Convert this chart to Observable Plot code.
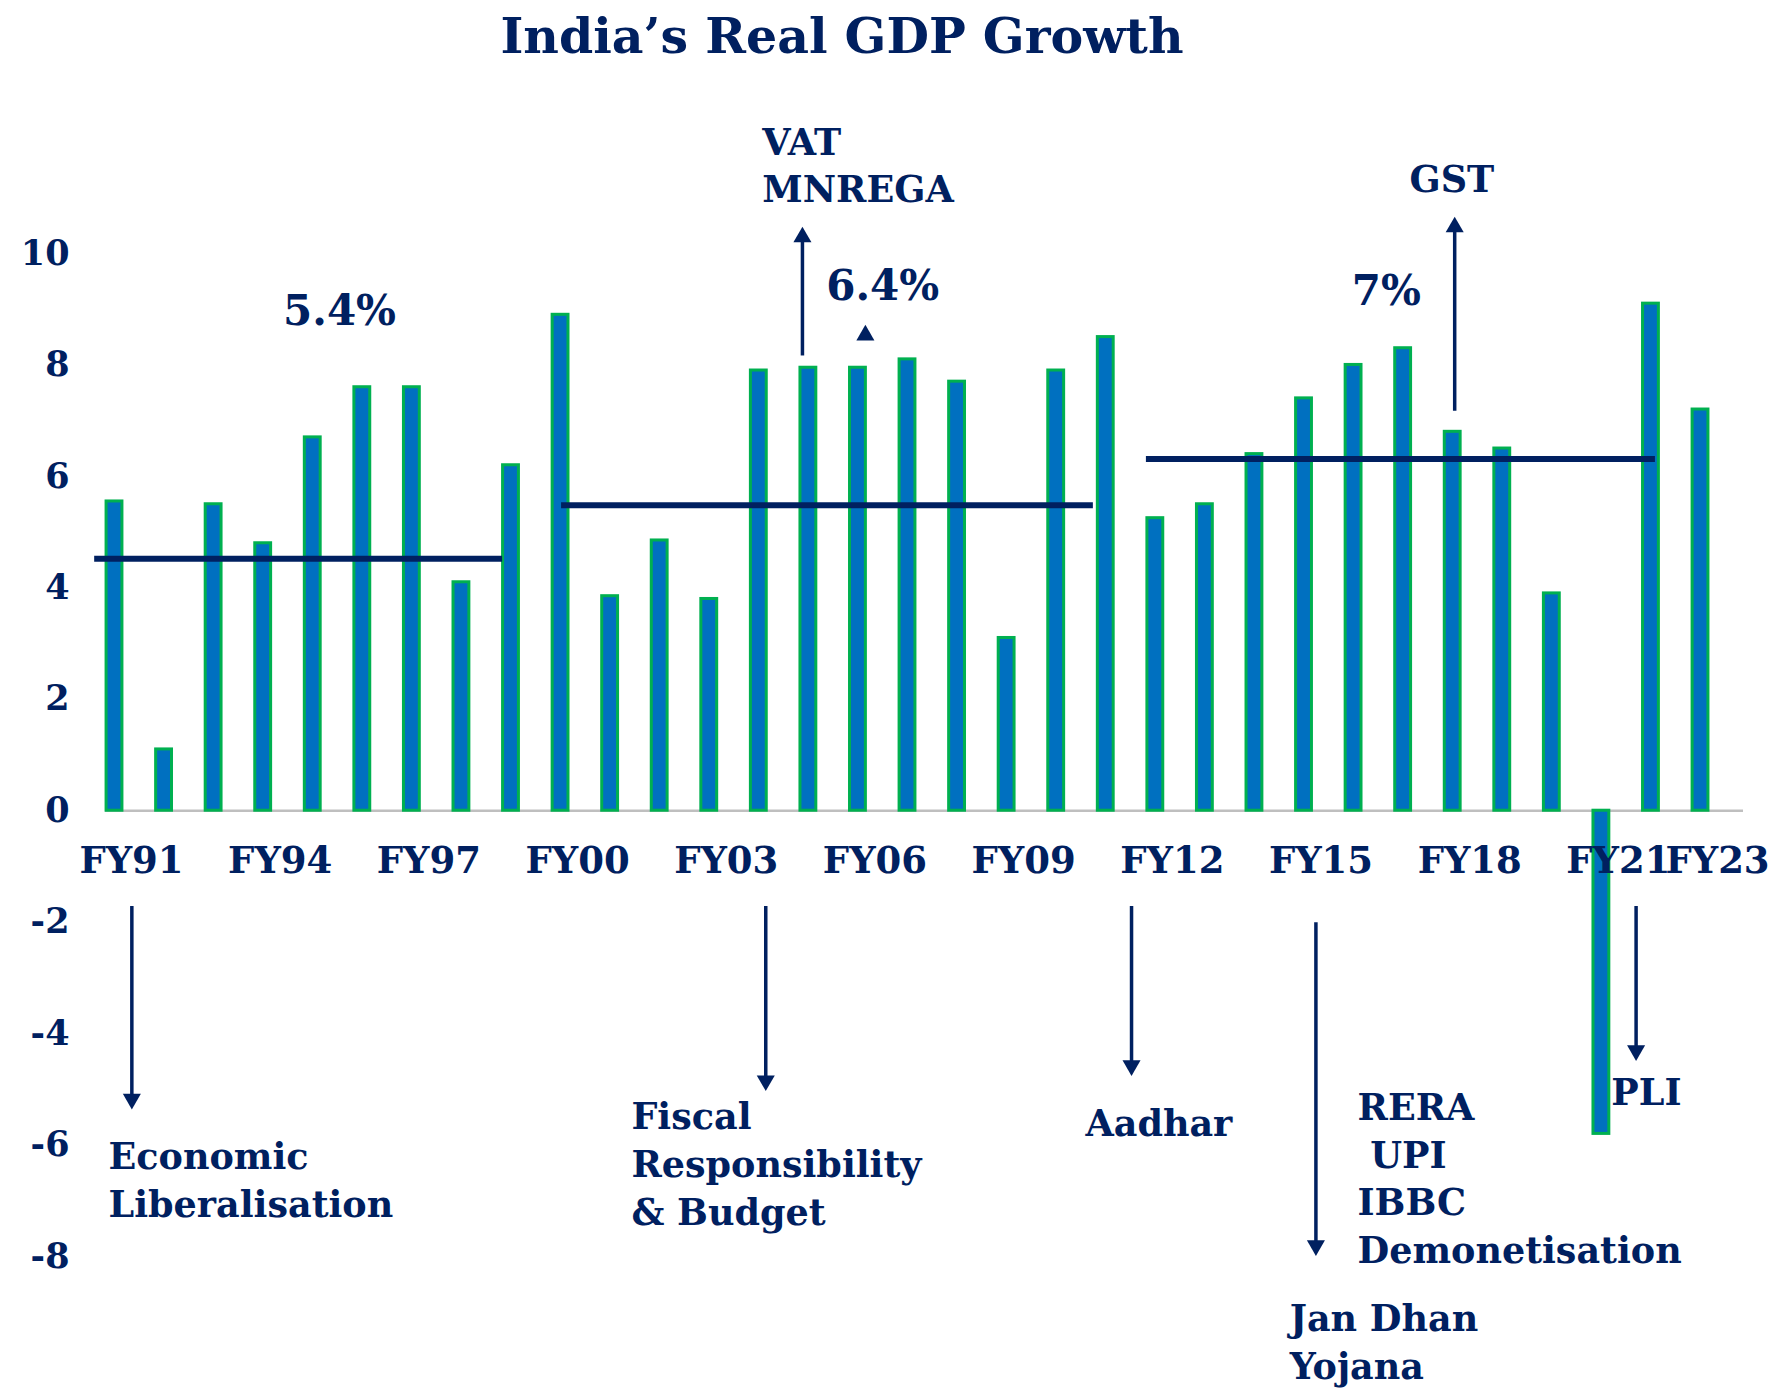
<!DOCTYPE html>
<html><head><meta charset="utf-8">
<script src="https://cdn.jsdelivr.net/npm/d3@7"></script>
<script src="https://cdn.jsdelivr.net/npm/@observablehq/plot@0.6"></script>
<style>
body{margin:0;background:#fff;}
#wrap{position:relative;width:1774px;height:1388px;overflow:hidden;background:#fff;}
#title{position:absolute;left:0;top:12px;width:1684px;text-align:center;font-family:"DejaVu Serif";font-weight:bold;font-size:49px;line-height:49px;color:#002060;}
#chart{position:absolute;left:0;top:80px;}
#chart text{white-space:pre;}
</style></head><body>
<div id="wrap"><div id="title">India’s Real GDP Growth</div><div id="chart"></div></div>
<script>
// Fiscal years (categories)
const categories = ["FY91","FY92","FY93","FY94","FY95","FY96","FY97","FY98","FY99","FY00",
  "FY01","FY02","FY03","FY04","FY05","FY06","FY07","FY08","FY09","FY10","FY11",
  "FY12","FY13","FY14","FY15","FY16","FY17","FY18","FY19","FY20","FY21","FY22","FY23"];
// Real GDP growth, %
const growth = [5.55,1.1,5.5,4.8,6.7,7.6,7.6,4.1,6.2,8.9,
  3.85,4.85,3.8,7.9,7.95,7.95,8.1,7.7,3.1,7.9,8.5,
  5.25,5.5,6.4,7.4,8.0,8.3,6.8,6.5,3.9,-5.8,9.1,7.2];
// Axis tick labels
const xTickLabels = ["FY91","FY94","FY97","FY00","FY03","FY06","FY09","FY12","FY15","FY18","FY21","FY23"];
const yTicks = [-8,-6,-4,-2,0,2,4,6,8,10];
// Period average lines (x in category-index units)
const avgFrom = [-0.40, 9.02, 20.82];
const avgTo = [7.83, 19.75, 31.09];
const avgValue = [4.52, 5.48, 6.31];
// Period labels
const periodLabels = ["5.4%","6.4%","7%"];
const periodLabelX = [4.54, 15.5, 25.66];
const periodLabelY = [8.95, 9.41, 9.32];
// Reform notes
const noteText = ["VAT\nMNREGA","GST","Economic\nLiberalisation","Fiscal\nResponsibility\n& Budget","Aadhar","RERA\n UPI\nIBBC\nDemonetisation","Jan Dhan\nYojana","PLI"];
const noteX = [13.07, 26.13, -0.12, 10.43, 19.59, 25.08, 23.71, 30.20];
const noteY = [11.62, 11.37, -6.58, -6.30, -5.56, -6.56, -9.50, -5.01];
// Arrows (x in category-index units, from / to in growth units)
const arrowX = [13.88, 27.04, 15.15, 0.35, 13.14, 20.52, 24.24, 30.70];
const arrowFrom = [8.17, 7.18, 8.72, -1.71, -1.71, -1.71, -2.0, -1.71];
const arrowTo = [10.48, 10.66, 8.72, -5.36, -5.03, -4.76, -7.99, -4.49];

const navy = "#002060";
const data = categories.map((c, i) => ({c, i, v: growth[i]}));
const ticks = xTickLabels.map(l => ({l, i: categories.indexOf(l)}));
const avgs = avgValue.map((v, k) => ({x1: avgFrom[k], x2: avgTo[k], v}));
const pct = periodLabels.map((t, k) => ({t, x: periodLabelX[k], y: periodLabelY[k]}));
const notes = noteText.map((t, k) => ({t, x: noteX[k], y: noteY[k]}));
const arrows = arrowX.map((x, k) => ({x, from: arrowFrom[k], to: arrowTo[k]}));

const chart = Plot.plot({
  width: 1774, height: 1308,
  marginLeft: 80, marginRight: 20, marginTop: 173, marginBottom: 132,
  x: {type: "linear", domain: [-0.686, 33.089], axis: null},
  y: {domain: [-8, 10]},
  style: {fontFamily: "DejaVu Serif", fontWeight: "bold", color: navy, background: "white", overflow: "visible"},
  marks: [
    Plot.axisY({ticks: yTicks, tickSize: 0, tickPadding: 11, tickFormat: d => String(d), fontSize: 35, fill: navy, label: null}),
    Plot.ruleY([0], {stroke: "#BFBFBF", strokeWidth: 2.5, insetLeft: 25, insetRight: 11}),
    Plot.rect(data, {x1: d => d.i - 0.16, x2: d => d.i + 0.16, y1: 0, y2: "v", fill: "#0070C0", stroke: "#00B050", strokeWidth: 3}),
    Plot.ruleY(avgs, {x1: "x1", x2: "x2", y: "v", stroke: navy, strokeWidth: 6}),
    Plot.text(ticks, {x: "i", y: 0, text: "l", dy: 50, dx: 17, fontSize: 37, fill: navy}),
    Plot.text(pct, {x: "x", y: "y", text: "t", fontSize: 42, fill: navy}),
    Plot.text(notes, {x: "x", y: "y", text: "t", textAnchor: "start", fontSize: 36.5, lineHeight: 1.31, fill: navy}),
    Plot.link(arrows, {x1: "x", x2: "x", y1: "from", y2: d => d.to - Math.sign(d.to - d.from) * 0.1, stroke: navy, strokeWidth: 3.5}),
    Plot.dot(arrows, {filter: d => d.to < d.from, x: "x", y: "to", symbol: "triangle", r: 6.7, rotate: 180, dy: -10.4, fill: navy, stroke: "none"}),
    Plot.dot(arrows, {filter: d => d.to >= d.from, x: "x", y: "to", symbol: "triangle", r: 6.7, dy: 10.4, fill: navy, stroke: "none"})
  ]
});
document.getElementById("chart").appendChild(chart);
</script>
</body></html>
